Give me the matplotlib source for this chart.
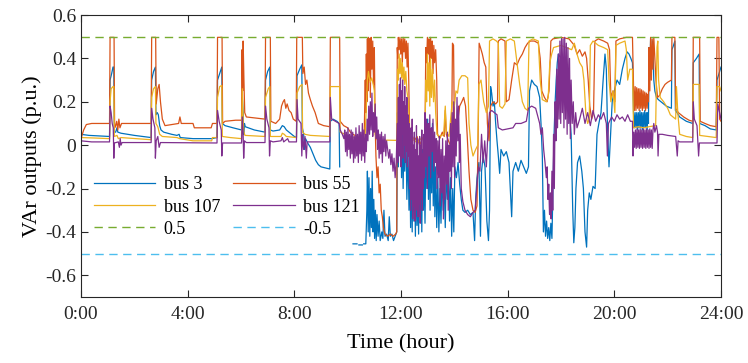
import numpy as np
import matplotlib
matplotlib.use("Agg")
import matplotlib.pyplot as plt

nan = np.nan

# (hour, p.u.)
bus3 = [
    (0.00, 0.05), (0.30, 0.045), (1.07, 0.04), (1.09, 0.30), (1.15, 0.33), (1.20, 0.36), (1.23, 0.36),
    (1.25, 0.06), (1.30, 0.06), (1.35, 0.08), (1.38, 0.06), (1.50, 0.055), (2.00, 0.045), (2.63, 0.035),
    (2.65, 0.30), (2.72, 0.34), (2.79, 0.36), (2.81, 0.14), (2.86, 0.15), (2.90, 0.14), (2.95, 0.09),
    (3.00, 0.07), (3.10, 0.06), (3.40, 0.05), (3.60, 0.045), (3.68, 0.05), (3.72, 0.035), (4.20, 0.03),
    (4.90, 0.03), (5.10, 0.035), (5.12, 0.30), (5.20, 0.33), (5.28, 0.36), (5.30, 0.10), (5.40, 0.09),
    (5.70, 0.08), (6.02, 0.07), (6.05, 0.22), (6.08, 0.15), (6.10, 0.05), (6.13, 0.10), (6.16, 0.085),
    (6.50, 0.07), (6.90, 0.06), (6.92, 0.30), (7.00, 0.34), (7.08, 0.36), (7.10, 0.07), (7.20, 0.065),
    (7.45, 0.07), (7.55, 0.09), (7.62, 0.085), (7.70, 0.07), (8.00, 0.04), (8.08, 0.035), (8.10, 0.32),
    (8.20, 0.35), (8.28, 0.37), (8.30, 0.08), (8.35, 0.05), (8.38, -0.02), (8.42, 0.03), (8.50, 0.01),
    (8.60, -0.01), (8.70, -0.04), (8.80, -0.07), (8.90, -0.09), (9.00, -0.10), (9.33, -0.11),
    (9.35, 0.11), (9.45, 0.12), (9.60, 0.11), (9.68, 0.10), (9.70, -0.10), (9.72, nan),
    (10.20, -0.455), (10.35, -0.455), (10.36, nan), (10.42, -0.46), (10.55, -0.46), (10.56, nan),
    (10.60, -0.455), (10.68, -0.455), (10.72, -0.30), (10.74, -0.12), (10.77, -0.40), (10.80, -0.15),
    (10.83, -0.42), (10.86, -0.20), (10.89, -0.38), (10.92, -0.12), (10.95, -0.40), (10.98, -0.25),
    (11.01, -0.43), (11.04, -0.30), (11.07, -0.44), (11.10, -0.32), (11.14, -0.42), (11.18, -0.35),
    (11.22, -0.44), (11.28, -0.40), (11.32, -0.43), (11.36, -0.30), (11.40, -0.42), (11.46, -0.41),
    (11.52, -0.44), (11.56, -0.33), (11.60, -0.42), (11.66, -0.41), (11.72, -0.44), (11.78, -0.42),
    (11.84, -0.40), (11.87, 0.15), (11.90, -0.10), (11.93, 0.20), (11.96, -0.05), (11.99, 0.18),
    (12.02, -0.15), (12.05, 0.10), (12.08, -0.20), (12.11, 0.05), (12.14, -0.12), (12.18, 0.12),
    (12.22, -0.25), (12.26, 0.0), (12.30, -0.30), (12.33, -0.05), (12.36, -0.38), (12.39, -0.10),
    (12.42, -0.40), (12.45, -0.02), (12.48, -0.35), (12.51, -0.15), (12.54, -0.42), (12.57, -0.08),
    (12.60, -0.37), (12.63, -0.20), (12.66, -0.41), (12.69, -0.05), (12.72, -0.33), (12.75, -0.12),
    (12.78, -0.40), (12.81, -0.02), (12.84, -0.30), (12.87, -0.10), (12.90, -0.36), (12.94, 0.05),
    (12.97, -0.20), (13.00, 0.12), (13.03, -0.25), (13.06, 0.08), (13.09, -0.30), (13.12, 0.02),
    (13.15, -0.22), (13.18, 0.10), (13.21, -0.28), (13.24, 0.0), (13.27, -0.33), (13.30, -0.10),
    (13.34, -0.38), (13.38, -0.15), (13.42, -0.40), (13.46, -0.20), (13.50, -0.36), (13.54, -0.12),
    (13.58, -0.30), (13.62, -0.18), (13.66, -0.38), (13.70, -0.10), (13.74, -0.25), (13.78, -0.08),
    (13.82, -0.35), (13.86, -0.15), (13.90, -0.42), (13.94, -0.20), (13.98, -0.40), (14.02, -0.10),
    (14.08, -0.15), (14.14, -0.08), (14.20, -0.18), (14.26, -0.25), (14.32, -0.30), (14.40, -0.31),
    (14.50, -0.30), (14.60, -0.32), (14.70, -0.31), (14.76, -0.44), (14.80, -0.25), (14.85, -0.15),
    (14.92, -0.08), (14.98, -0.42), (15.02, -0.12), (15.08, -0.05), (15.15, -0.10), (15.22, -0.35),
    (15.28, -0.44), (15.32, -0.30), (15.36, 0.27), (15.40, 0.24), (15.45, 0.18), (15.50, 0.20),
    (15.55, 0.10), (15.60, 0.02), (15.65, -0.05), (15.70, -0.13), (15.75, -0.02), (15.85, -0.05),
    (15.95, -0.03), (16.05, -0.08), (16.10, -0.20), (16.15, -0.33), (16.20, -0.12), (16.30, -0.08),
    (16.40, -0.12), (16.50, -0.07), (16.60, -0.10), (16.70, -0.13), (16.78, -0.10), (16.82, 0.25),
    (16.90, 0.30), (17.00, 0.28), (17.10, 0.27), (17.20, 0.22), (17.25, 0.10), (17.30, -0.05),
    (17.34, -0.40), (17.38, -0.30), (17.42, -0.42), (17.46, -0.35), (17.50, -0.43), (17.54, -0.38),
    (17.58, -0.44), (17.62, -0.36), (17.66, -0.43), (17.70, -0.20), (17.74, 0.05), (17.78, 0.20),
    (17.82, 0.30), (17.86, 0.38), (17.90, 0.42), (18.00, 0.40), (18.10, 0.35), (18.18, 0.27),
    (18.25, 0.20), (18.32, 0.15), (18.38, 0.05), (18.44, -0.30), (18.48, -0.45), (18.52, -0.38),
    (18.56, -0.20), (18.62, -0.08), (18.70, -0.05), (18.78, -0.12), (18.84, -0.20), (18.90, -0.40),
    (18.96, -0.47), (19.00, -0.30), (19.06, -0.22), (19.12, -0.25), (19.20, -0.19), (19.28, -0.20),
    (19.35, 0.05), (19.42, 0.10), (19.50, 0.15), (19.58, 0.30), (19.65, 0.42), (19.70, 0.35),
    (19.74, 0.10), (19.80, -0.10), (19.86, 0.05), (19.92, 0.20), (20.00, 0.25), (20.10, 0.30),
    (20.20, 0.28), (20.30, 0.35), (20.40, 0.40), (20.48, 0.43), (20.55, 0.42), (20.62, 0.40),
    (20.68, 0.38), (20.72, 0.15), (20.75, 0.08), (20.78, 0.15), (20.81, 0.08), (20.84, 0.15),
    (20.87, 0.07), (20.90, 0.15), (20.93, 0.08), (20.96, 0.16), (20.99, 0.08), (21.02, 0.15),
    (21.05, 0.07), (21.08, 0.15), (21.11, 0.08), (21.14, 0.16), (21.17, 0.08), (21.20, 0.15),
    (21.23, 0.07), (21.26, 0.15), (21.28, 0.10), (21.30, 0.45), (21.33, 0.30), (21.36, 0.49),
    (21.40, 0.35), (21.44, 0.48), (21.48, 0.30), (21.52, 0.25), (21.58, 0.22), (21.65, 0.21),
    (21.75, 0.20), (21.85, 0.19), (21.95, 0.18), (22.05, 0.175), (22.14, 0.17), (22.16, 0.44),
    (22.22, 0.46), (22.27, 0.48), (22.29, 0.16), (22.35, 0.15), (22.45, 0.13), (22.70, 0.11),
    (22.94, 0.10), (22.96, 0.38), (23.08, 0.40), (23.18, 0.42), (23.20, 0.10), (23.40, 0.09),
    (23.60, 0.075), (23.82, 0.07), (23.85, 0.30), (23.95, 0.34), (24.00, 0.36),
]

bus55 = [
    (0.00, 0.03), (0.10, 0.07), (0.20, 0.095), (0.40, 0.10), (1.07, 0.10), (1.09, 0.497), (1.24, 0.497),
    (1.26, 0.08), (1.30, 0.09), (1.34, 0.11), (1.38, 0.07), (1.42, 0.12), (1.46, 0.08), (1.52, 0.10),
    (2.63, 0.10), (2.65, 0.497), (2.80, 0.497), (2.82, 0.19), (2.88, 0.26), (2.93, 0.28), (2.98, 0.20),
    (3.05, 0.12), (3.15, 0.09), (3.40, 0.095), (3.66, 0.10), (3.71, 0.13), (3.76, 0.10), (4.20, 0.10),
    (4.25, 0.08), (4.88, 0.08), (4.93, 0.10), (5.10, 0.10), (5.12, 0.497), (5.29, 0.497), (5.31, 0.10),
    (5.40, 0.11), (5.80, 0.115), (6.02, 0.115), (6.04, 0.44), (6.06, 0.25), (6.08, 0.48), (6.11, 0.30),
    (6.14, 0.15), (6.20, 0.13), (6.90, 0.12), (6.92, 0.497), (7.10, 0.497), (7.12, 0.11), (7.30, 0.10),
    (7.45, 0.12), (7.52, 0.18), (7.58, 0.20), (7.63, 0.21), (7.68, 0.17), (7.73, 0.19), (7.80, 0.16),
    (7.88, 0.15), (7.96, 0.12), (8.07, 0.11), (8.09, 0.497), (8.30, 0.497), (8.32, 0.33), (8.37, 0.36),
    (8.42, 0.28), (8.47, 0.30), (8.53, 0.24), (8.60, 0.21), (8.68, 0.18), (8.78, 0.15), (8.90, 0.10),
    (9.10, 0.09), (9.33, 0.085), (9.35, 0.497), (9.70, 0.497), (9.72, 0.11), (9.85, 0.09), (10.00, 0.08),
    (10.10, 0.06), (10.20, 0.05), (10.35, 0.04), (10.50, 0.03), (10.62, 0.05), (10.66, 0.30),
    (10.68, 0.15), (10.70, 0.42), (10.72, 0.20), (10.74, 0.49), (10.76, 0.25), (10.78, 0.497),
    (10.80, 0.30), (10.82, 0.49), (10.85, 0.22), (10.88, 0.497), (10.91, 0.35), (10.94, 0.48),
    (10.97, 0.28), (11.00, 0.45), (11.03, 0.10), (11.06, -0.05), (11.10, -0.15), (11.14, -0.10),
    (11.18, -0.22), (11.22, -0.18), (11.26, -0.30), (11.30, -0.33), (11.34, -0.38), (11.40, -0.41),
    (11.50, -0.42), (11.60, -0.41), (11.70, -0.42), (11.80, -0.41), (11.84, -0.40), (11.86, 0.45),
    (11.88, 0.40), (11.90, 0.497), (11.93, 0.44), (11.96, 0.497), (11.99, 0.42), (12.02, 0.49),
    (12.05, 0.38), (12.08, 0.497), (12.11, 0.43), (12.14, 0.49), (12.17, 0.40), (12.20, 0.48),
    (12.23, 0.36), (12.26, 0.47), (12.29, 0.30), (12.32, 0.08), (12.40, 0.05), (12.50, 0.02),
    (12.60, 0.04), (12.70, 0.0), (12.80, 0.03), (12.90, 0.05), (12.93, 0.45), (12.96, 0.38),
    (12.99, 0.497), (13.02, 0.42), (13.05, 0.49), (13.08, 0.35), (13.11, 0.497), (13.14, 0.40),
    (13.17, 0.48), (13.20, 0.33), (13.23, 0.46), (13.26, 0.38), (13.30, 0.44), (13.34, 0.30),
    (13.37, 0.05), (13.45, 0.03), (13.55, 0.06), (13.62, 0.04), (13.66, 0.16), (13.70, 0.05),
    (13.78, 0.02), (13.85, 0.0), (13.90, 0.05), (13.93, 0.47), (13.97, 0.46), (14.00, 0.10),
    (14.05, 0.02), (14.12, 0.10), (14.20, 0.18), (14.28, 0.20), (14.35, 0.22), (14.42, 0.18),
    (14.48, 0.05), (14.55, -0.12), (14.62, -0.25), (14.70, -0.30), (14.78, -0.31), (14.85, -0.28),
    (14.90, 0.10), (14.93, 0.47), (14.98, 0.45), (15.05, 0.42), (15.12, 0.38), (15.18, 0.36),
    (15.24, 0.10), (15.30, 0.02), (15.36, 0.18), (15.45, 0.20), (15.55, 0.19), (15.62, 0.20),
    (15.65, 0.48), (15.75, 0.49), (15.90, 0.48), (15.95, 0.20), (16.05, 0.21), (16.15, 0.30),
    (16.25, 0.38), (16.35, 0.37), (16.45, 0.40), (16.55, 0.42), (16.65, 0.45), (16.75, 0.47),
    (16.85, 0.48), (17.00, 0.48), (17.15, 0.47), (17.22, 0.40), (17.28, 0.25), (17.38, 0.22),
    (17.48, 0.20), (17.55, 0.25), (17.62, 0.48), (17.70, 0.49), (18.00, 0.497), (18.30, 0.49),
    (18.50, 0.46), (18.60, 0.42), (18.70, 0.44), (18.80, 0.41), (18.90, 0.43), (18.96, 0.40),
    (19.02, 0.30), (19.08, 0.18), (19.15, 0.12), (19.22, 0.15), (19.27, 0.48), (19.40, 0.49),
    (19.60, 0.48), (19.75, 0.47), (19.82, 0.44), (19.87, 0.22), (19.95, 0.25), (20.02, 0.20),
    (20.06, 0.48), (20.20, 0.49), (20.45, 0.497), (20.68, 0.497), (20.72, 0.27), (20.75, 0.16),
    (20.78, 0.27), (20.81, 0.16), (20.84, 0.265), (20.87, 0.17), (20.90, 0.26), (20.93, 0.16),
    (20.96, 0.26), (20.99, 0.17), (21.02, 0.255), (21.05, 0.16), (21.08, 0.25), (21.11, 0.17),
    (21.14, 0.245), (21.17, 0.16), (21.20, 0.24), (21.23, 0.17), (21.26, 0.235), (21.28, 0.20),
    (21.30, 0.45), (21.33, 0.25), (21.36, 0.497), (21.39, 0.30), (21.42, 0.49), (21.45, 0.35),
    (21.48, 0.497), (21.52, 0.40), (21.56, 0.30), (21.62, 0.22), (21.70, 0.23), (21.80, 0.26),
    (21.90, 0.28), (22.00, 0.29), (22.14, 0.30), (22.16, 0.497), (22.27, 0.497), (22.30, 0.17),
    (22.40, 0.15), (22.60, 0.13), (22.80, 0.115), (22.94, 0.11), (22.96, 0.497), (23.20, 0.497),
    (23.22, 0.11), (23.40, 0.10), (23.60, 0.09), (23.82, 0.085), (23.85, 0.497), (23.92, 0.497),
    (23.95, 0.12), (24.00, 0.11),
]

bus107 = [
    (0.00, 0.035), (0.50, 0.033), (1.07, 0.03), (1.09, 0.20), (1.13, 0.26), (1.20, 0.27), (1.23, 0.27),
    (1.25, 0.04), (1.35, 0.045), (1.40, 0.03), (1.50, 0.035), (2.63, 0.025), (2.65, 0.22), (2.72, 0.26),
    (2.79, 0.27), (2.81, 0.10), (2.88, 0.085), (2.95, 0.05), (3.05, 0.04), (3.60, 0.035), (3.70, 0.03),
    (4.20, 0.02), (4.90, 0.02), (4.93, 0.035), (5.10, 0.035), (5.12, 0.22), (5.20, 0.27), (5.28, 0.275),
    (5.30, 0.04), (5.60, 0.035), (6.02, 0.03), (6.05, 0.26), (6.08, 0.12), (6.11, 0.06), (6.15, 0.045),
    (6.90, 0.04), (6.92, 0.22), (7.02, 0.26), (7.08, 0.27), (7.10, 0.04), (7.50, 0.04), (7.55, 0.055),
    (7.62, 0.05), (7.70, 0.04), (8.08, 0.035), (8.10, 0.24), (8.20, 0.27), (8.29, 0.28), (8.31, 0.06),
    (8.40, 0.05), (8.60, 0.045), (9.33, 0.04), (9.35, 0.27), (9.70, 0.27), (9.72, 0.06), (9.90, 0.05),
    (10.10, 0.04), (10.40, 0.03), (10.65, 0.03), (10.70, 0.18), (10.74, 0.30), (10.78, 0.34),
    (10.84, 0.29), (10.90, 0.31), (10.96, 0.28), (11.00, 0.25), (11.03, 0.05), (11.10, 0.025),
    (11.20, 0.022), (11.50, 0.023), (11.80, 0.022), (11.85, 0.025), (11.87, 0.35), (11.90, 0.30),
    (11.93, 0.42), (11.96, 0.33), (11.99, 0.40), (12.02, 0.31), (12.05, 0.38), (12.08, 0.30),
    (12.11, 0.36), (12.14, 0.28), (12.18, 0.34), (12.22, 0.25), (12.28, 0.20), (12.32, 0.05),
    (12.45, 0.03), (12.60, 0.01), (12.75, 0.03), (12.90, 0.04), (12.93, 0.30), (12.96, 0.20),
    (12.99, 0.42), (13.02, 0.25), (13.05, 0.38), (13.08, 0.18), (13.11, 0.40), (13.14, 0.22),
    (13.18, 0.35), (13.22, 0.20), (13.26, 0.30), (13.30, 0.15), (13.35, 0.05), (13.45, 0.04),
    (13.60, 0.05), (13.66, 0.18), (13.70, 0.06), (13.80, 0.04), (13.86, 0.12), (13.92, 0.20),
    (14.00, 0.18), (14.06, 0.25), (14.12, 0.24), (14.18, 0.30), (14.28, 0.32), (14.40, 0.32),
    (14.50, 0.31), (14.55, 0.10), (14.62, 0.0), (14.70, -0.05), (14.80, -0.02), (14.88, 0.0),
    (14.92, 0.28), (15.00, 0.30), (15.10, 0.20), (15.20, 0.15), (15.28, 0.18), (15.32, 0.48),
    (15.45, 0.49), (15.58, 0.48), (15.65, 0.47), (15.70, 0.18), (15.80, 0.17), (15.90, 0.19),
    (15.95, 0.48), (16.10, 0.49), (16.25, 0.48), (16.35, 0.38), (16.45, 0.28), (16.55, 0.20),
    (16.65, 0.17), (16.75, 0.16), (16.80, 0.48), (16.95, 0.49), (17.15, 0.48), (17.22, 0.30),
    (17.30, 0.21), (17.45, 0.20), (17.52, 0.22), (17.58, 0.38), (17.65, 0.42), (17.72, 0.45),
    (18.00, 0.46), (18.20, 0.45), (18.40, 0.44), (18.50, 0.47), (18.60, 0.42), (18.70, 0.38),
    (18.80, 0.36), (18.86, 0.30), (18.93, 0.15), (19.00, 0.10), (19.06, 0.12), (19.10, 0.46),
    (19.20, 0.48), (19.40, 0.46), (19.60, 0.45), (19.75, 0.44), (19.80, 0.30), (19.87, 0.20),
    (19.95, 0.25), (20.02, 0.15), (20.06, 0.46), (20.20, 0.47), (20.40, 0.48), (20.45, 0.44),
    (20.50, 0.30), (20.58, 0.35), (20.68, 0.35), (20.72, 0.08), (20.90, 0.085), (21.10, 0.08),
    (21.30, 0.085), (21.55, 0.09), (21.60, 0.45), (21.63, 0.48), (21.66, 0.30), (21.72, 0.22),
    (21.85, 0.20), (22.00, 0.17), (22.10, 0.14), (22.30, 0.12), (22.33, 0.27), (22.38, 0.15),
    (22.45, 0.05), (22.70, 0.04), (22.94, 0.035), (22.96, 0.28), (23.18, 0.28), (23.20, 0.045),
    (23.50, 0.04), (23.82, 0.035), (23.85, 0.27), (23.95, 0.27), (24.00, 0.25),
]

bus121 = [
    (0.00, 0.02), (0.40, 0.015), (1.07, 0.015), (1.09, 0.18), (1.13, 0.15), (1.17, 0.10), (1.21, 0.08),
    (1.23, -0.06), (1.25, 0.01), (1.40, 0.015), (1.44, -0.01), (1.47, 0.03), (1.50, 0.0), (1.54, 0.012),
    (2.63, 0.012), (2.65, 0.17), (2.70, 0.12), (2.77, 0.08), (2.79, -0.06), (2.82, 0.02), (2.88, 0.04),
    (2.93, -0.01), (2.98, 0.012), (5.10, 0.01), (5.12, 0.16), (5.18, 0.11), (5.26, 0.07), (5.28, -0.05),
    (5.31, 0.01), (6.02, 0.01), (6.05, 0.13), (6.08, 0.05), (6.10, -0.06), (6.13, 0.02), (6.20, 0.012),
    (6.90, 0.012), (6.92, 0.18), (6.97, 0.12), (7.05, 0.08), (7.07, -0.05), (7.10, 0.02), (7.20, 0.015),
    (7.50, 0.02), (7.55, 0.035), (7.60, 0.015), (7.75, 0.03), (7.80, 0.015), (8.08, 0.015), (8.10, 0.21),
    (8.14, 0.12), (8.25, 0.10), (8.28, -0.05), (8.31, 0.05), (8.35, -0.02), (8.40, 0.04), (8.45, -0.06),
    (8.48, 0.015), (9.33, 0.015), (9.35, 0.22), (9.40, 0.12), (9.68, 0.10), (9.72, 0.07), (9.80, 0.05),
    (9.86, 0.03), (9.89, 0.07), (9.92, -0.03), (9.95, 0.06), (9.98, -0.05), (10.01, 0.08), (10.04, -0.02),
    (10.07, 0.05), (10.10, -0.06), (10.13, 0.07), (10.16, -0.04), (10.19, 0.06), (10.22, -0.08),
    (10.25, 0.04), (10.28, -0.06), (10.31, 0.08), (10.34, -0.05), (10.37, 0.05), (10.40, -0.08),
    (10.43, 0.09), (10.46, -0.04), (10.49, 0.06), (10.52, -0.07), (10.55, 0.10), (10.58, -0.05),
    (10.61, 0.07), (10.64, -0.08), (10.67, 0.05), (10.70, -0.03), (10.73, 0.12), (10.76, 0.02),
    (10.79, 0.18), (10.82, 0.05), (10.85, 0.20), (10.88, 0.07), (10.91, 0.24), (10.94, 0.04),
    (10.97, 0.15), (11.00, 0.06), (11.03, 0.19), (11.06, 0.03), (11.09, 0.13), (11.12, -0.02),
    (11.15, 0.07), (11.18, -0.06), (11.21, 0.05), (11.24, -0.04), (11.27, 0.06), (11.30, -0.08),
    (11.33, 0.04), (11.36, -0.03), (11.40, 0.05), (11.43, -0.05), (11.46, 0.02), (11.50, -0.02),
    (11.54, -0.06), (11.58, -0.02), (11.62, -0.09), (11.66, -0.04), (11.70, -0.12), (11.74, -0.06),
    (11.78, -0.15), (11.82, -0.08), (11.86, 0.10), (11.88, -0.08), (11.90, 0.22), (11.92, -0.05),
    (11.94, 0.28), (11.96, 0.02), (11.98, 0.31), (12.00, -0.10), (12.02, 0.25), (12.04, 0.05),
    (12.06, 0.30), (12.08, -0.06), (12.10, 0.20), (12.12, 0.00), (12.14, 0.27), (12.16, -0.08),
    (12.18, 0.18), (12.20, -0.03), (12.22, 0.22), (12.24, -0.10), (12.26, 0.14), (12.28, -0.05),
    (12.30, 0.10), (12.32, -0.20), (12.34, 0.05), (12.36, -0.30), (12.38, 0.08), (12.40, -0.25),
    (12.42, 0.12), (12.44, -0.34), (12.46, 0.00), (12.48, -0.28), (12.50, 0.06), (12.52, -0.35),
    (12.54, -0.02), (12.56, -0.30), (12.58, 0.09), (12.60, -0.22), (12.62, 0.03), (12.64, -0.33),
    (12.66, -0.05), (12.68, -0.27), (12.70, 0.04), (12.72, -0.36), (12.74, 0.00), (12.76, -0.25),
    (12.78, 0.07), (12.80, -0.30), (12.82, -0.04), (12.84, -0.20), (12.86, 0.05), (12.88, -0.15),
    (12.90, 0.15), (12.93, -0.10), (12.96, 0.12), (12.99, -0.20), (13.02, 0.10), (13.05, -0.05),
    (13.08, 0.14), (13.11, -0.15), (13.14, 0.08), (13.17, -0.03), (13.20, 0.12), (13.23, -0.12),
    (13.26, 0.06), (13.29, -0.08), (13.32, 0.03), (13.35, -0.20), (13.38, 0.02), (13.41, -0.15),
    (13.44, 0.04), (13.47, -0.28), (13.50, -0.02), (13.53, -0.22), (13.56, 0.03), (13.59, -0.34),
    (13.62, -0.05), (13.65, -0.25), (13.68, 0.02), (13.71, -0.18), (13.74, 0.06), (13.77, -0.30),
    (13.80, 0.00), (13.83, -0.12), (13.86, 0.10), (13.89, -0.20), (13.92, 0.15), (13.95, -0.10),
    (13.98, 0.20), (14.01, -0.15), (14.04, 0.12), (14.07, -0.05), (14.10, 0.22), (14.13, 0.02),
    (14.16, 0.18), (14.19, -0.08), (14.22, 0.05), (14.26, -0.20), (14.32, -0.26), (14.40, -0.30),
    (14.50, -0.32), (14.60, -0.33), (14.70, -0.31), (14.78, -0.30), (14.84, -0.20), (14.90, -0.10),
    (14.96, -0.12), (15.02, 0.05), (15.08, -0.08), (15.14, 0.02), (15.20, -0.10), (15.26, 0.06),
    (15.32, 0.15), (15.40, 0.16), (15.50, 0.15), (15.60, 0.14), (15.65, 0.08), (15.80, 0.07),
    (16.00, 0.075), (16.20, 0.08), (16.30, 0.10), (16.50, 0.10), (16.70, 0.11), (16.78, 0.17),
    (16.90, 0.18), (17.05, 0.17), (17.20, 0.10), (17.25, 0.05), (17.30, 0.08), (17.35, -0.02),
    (17.40, -0.08), (17.45, -0.15), (17.48, -0.10), (17.51, -0.25), (17.54, -0.18), (17.57, -0.32),
    (17.60, -0.22), (17.63, -0.34), (17.66, -0.12), (17.69, -0.30), (17.72, 0.05), (17.75, -0.20),
    (17.78, 0.20), (17.81, 0.02), (17.84, 0.35), (17.87, 0.08), (17.90, 0.42), (17.93, 0.12),
    (17.96, 0.48), (17.99, 0.10), (18.02, 0.497), (18.05, 0.15), (18.08, 0.49), (18.11, 0.08),
    (18.14, 0.497), (18.17, 0.12), (18.20, 0.47), (18.23, 0.05), (18.26, 0.45), (18.29, 0.10),
    (18.32, 0.40), (18.35, 0.03), (18.38, 0.30), (18.42, 0.10), (18.46, 0.20), (18.50, 0.05),
    (18.55, 0.15), (18.60, 0.08), (18.70, 0.12), (18.80, 0.17), (18.90, 0.10), (19.00, 0.15),
    (19.10, 0.09), (19.20, 0.16), (19.30, 0.11), (19.40, 0.14), (19.50, 0.12), (19.60, 0.15),
    (19.70, 0.10), (19.74, -0.05), (19.78, 0.10), (19.90, 0.13), (20.00, 0.11), (20.10, 0.14),
    (20.20, 0.12), (20.30, 0.13), (20.40, 0.11), (20.50, 0.14), (20.60, 0.11), (20.68, 0.11),
    (20.70, -0.05), (20.73, 0.06), (20.76, -0.01), (20.79, 0.07), (20.82, -0.015), (20.85, 0.075),
    (20.88, -0.01), (20.91, 0.07), (20.94, -0.015), (20.97, 0.075), (21.00, -0.01), (21.03, 0.07),
    (21.06, -0.015), (21.09, 0.075), (21.12, -0.01), (21.15, 0.07), (21.18, -0.015), (21.21, 0.075),
    (21.24, -0.01), (21.27, 0.07), (21.30, -0.015), (21.33, 0.075), (21.36, -0.01), (21.39, 0.07),
    (21.42, -0.015), (21.45, 0.07), (21.48, 0.10), (21.52, 0.06), (21.58, 0.09), (21.62, 0.06),
    (21.64, -0.05), (21.67, 0.05), (21.80, 0.05), (22.00, 0.045), (22.30, 0.04), (22.36, -0.05),
    (22.39, 0.02), (22.45, 0.015), (22.94, 0.015), (22.96, 0.20), (23.00, 0.12), (23.10, 0.09),
    (23.16, -0.05), (23.19, 0.01), (23.85, 0.01), (23.88, 0.19), (23.95, 0.15), (24.00, 0.12),
]

upper_limit = 0.5
lower_limit = -0.5

hour_ticks = [0, 4, 8, 12, 16, 20, 24]
hour_labels = ["0:00", "4:00", "8:00", "12:00", "16:00", "20:00", "24:00"]
var_ticks = [-0.6, -0.4, -0.2, 0, 0.2, 0.4, 0.6]
var_labels = ["-0.6", "-0.4", "-0.2", "0", "0.2", "0.4", "0.6"]

plt.rcParams["font.family"] = ["Liberation Serif", "DejaVu Serif"]

fig = plt.figure(figsize=(7.48, 3.63), dpi=100)
ax = fig.add_axes([81 / 748, 1 - 297 / 363, 640 / 748, 282 / 363])

series = [("bus 3", bus3, "#0072BD"), ("bus 55", bus55, "#D95319"),
          ("bus 107", bus107, "#EDB120"), ("bus 121", bus121, "#7E2F8E")]
h = {}
for name, pts, col in series:
    t, v = np.array(pts).T
    h[name], = ax.plot(t, v, color=col, lw=0.9, label=name)
h["0.5"] = ax.axhline(upper_limit, color="#77AC30", lw=1.0, ls=(0, (6, 4)), label="0.5")
h["-0.5"] = ax.axhline(lower_limit, color="#4DBEEE", lw=1.0, ls=(0, (6, 4)), label="-0.5")

ax.set_xlim(0, 24)
ax.set_ylim(-0.7, 0.6)
ax.set_xticks(hour_ticks, hour_labels)
ax.set_yticks(var_ticks, var_labels)
ax.tick_params(direction="in", length=5, width=0.8, top=True, right=True,
               labelsize=14, colors="#262626")
ax.tick_params(axis="x", pad=6.5)
for s in ax.spines.values():
    s.set_linewidth(0.8)
    s.set_color("#262626")
ax.set_xlabel("Time (hour)", fontsize=16, labelpad=8)
ax.set_ylabel("VAr outputs (p.u.)", fontsize=16, labelpad=2)

order = ["bus 3", "bus 107", "0.5", "bus 55", "bus 121", "-0.5"]
ax.legend([h[k] for k in order], order, ncol=2, loc="upper left", frameon=False,
          bbox_to_anchor=(-0.005, 0.485), fontsize=13, handlelength=3.4,
          columnspacing=0.75, labelspacing=0.28, handletextpad=0.45)

fig.savefig("out.png", dpi=100)
